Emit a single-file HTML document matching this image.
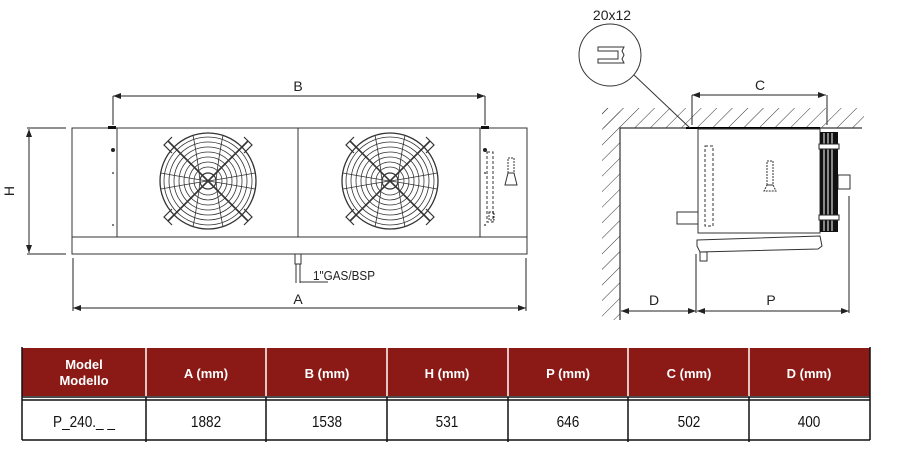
<!DOCTYPE html>
<html><head><meta charset="utf-8"><style>
html,body{margin:0;padding:0;background:#fff;width:899px;height:467px;overflow:hidden}
svg{display:block}
text{font-family:"Liberation Sans",sans-serif}
</style></head><body>
<svg width="899" height="467" viewBox="0 0 899 467" xmlns="http://www.w3.org/2000/svg">
<defs>
<marker id="ar" markerWidth="8" markerHeight="6" refX="8" refY="3" orient="auto-start-reverse" markerUnits="userSpaceOnUse"><path d="M0,0 L8,3 L0,6 z" fill="#222"/></marker>
<g id="fan" fill="none" stroke="#333" stroke-width="0.8">
<circle r="48" stroke-width="1.3"/><circle r="44"/><circle r="39"/><circle r="34"/><circle r="29"/><circle r="24"/><circle r="19"/><circle r="14"/><circle r="8" stroke-width="1.2"/>
<line x1="-40" y1="-40" x2="40" y2="40" stroke-width="1.6"/><line x1="-40" y1="40" x2="40" y2="-40" stroke-width="1.6"/>
<path d="M-15,-46 Q-10,-20 -8,0"/><path d="M15,-46 Q10,-20 8,0"/>
<path d="M-15,46 Q-10,20 -8,0"/><path d="M15,46 Q10,20 8,0"/>
<path d="M-47,-8 Q-20,-3 0,0"/><path d="M47,8 Q20,3 0,0"/>
<path d="M-47,8 Q-20,3 0,0"/><path d="M47,-8 Q20,-3 0,0"/>
<g stroke-width="1.2"><path d="M-36,-44 l-8,8 l8,8"/><path d="M36,-44 l8,8 l-8,8"/><path d="M-36,44 l-8,-8 l8,-8"/><path d="M36,44 l8,-8 l-8,-8"/></g>
</g>
<pattern id="hatch" width="11" height="11" patternUnits="userSpaceOnUse" patternTransform="rotate(45)"><line x1="0" y1="0" x2="0" y2="11" stroke="#333" stroke-width="1"/></pattern>
</defs>

<!-- LEFT FRONT VIEW -->
<g fill="none" stroke="#333" stroke-width="1">
<rect x="72" y="128" width="455" height="109"/>
<rect x="72" y="237" width="455" height="17"/>
<line x1="117" y1="128" x2="117" y2="237"/>
<line x1="298" y1="128" x2="298" y2="237"/>
<line x1="480" y1="128" x2="480" y2="237"/>
<rect x="295" y="254" width="6" height="10"/>
<line x1="296" y1="264" x2="296" y2="283"/><line x1="300" y1="264" x2="300" y2="283"/>
<line x1="300" y1="282" x2="328" y2="282"/>
<rect x="487" y="152" width="6" height="70" stroke-dasharray="3,2"/>
<rect x="508" y="158" width="6" height="15" stroke-dasharray="2,1"/>
<path d="M508,173 L514,173 L517,185 L505,185 Z"/>
<rect x="489" y="212" width="5" height="8" stroke-dasharray="2,1"/>
</g>
<rect x="108" y="126" width="8" height="3" fill="#111"/><rect x="481" y="126" width="8" height="3" fill="#111"/>
<circle cx="113" cy="150" r="2" fill="#222"/><circle cx="113" cy="173" r="1" fill="#555"/><circle cx="113" cy="225" r="1" fill="#555"/>
<circle cx="485" cy="150" r="2" fill="#222"/><circle cx="485" cy="173" r="1" fill="#555"/><circle cx="485" cy="225" r="1" fill="#555"/>
<use href="#fan" x="208" y="181"/>
<use href="#fan" x="390" y="181"/>
<!-- dims -->
<g stroke="#222" stroke-width="1" fill="none">
<line x1="113" y1="96" x2="485" y2="96" marker-start="url(#ar)" marker-end="url(#ar)"/>
<line x1="113" y1="96" x2="113" y2="125"/><line x1="485" y1="96" x2="485" y2="125"/>
<line x1="73" y1="308" x2="526" y2="308" marker-start="url(#ar)" marker-end="url(#ar)"/>
<line x1="73" y1="258" x2="73" y2="311"/><line x1="526" y1="258" x2="526" y2="311"/>
<line x1="29" y1="129" x2="29" y2="253" marker-start="url(#ar)" marker-end="url(#ar)"/>
<line x1="27" y1="128" x2="66" y2="128"/><line x1="27" y1="254" x2="66" y2="254"/>
</g>
<text x="298" y="91" font-size="14" text-anchor="middle" fill="#222">B</text>
<text x="298" y="304" font-size="14" text-anchor="middle" fill="#222">A</text>
<text x="14" y="191" font-size="14" text-anchor="middle" fill="#222" transform="rotate(-90 14 191)">H</text>
<text x="313" y="280" font-size="13" fill="#222" textLength="62" lengthAdjust="spacingAndGlyphs">1"GAS/BSP</text>

<!-- RIGHT SIDE VIEW -->
<rect x="602" y="108" width="262" height="20" fill="url(#hatch)"/>
<rect x="602" y="108" width="18" height="212" fill="url(#hatch)"/>
<rect x="620" y="128" width="244" height="192" fill="#fff"/>
<g fill="none" stroke="#333" stroke-width="1">
<line x1="620" y1="128" x2="862" y2="128" stroke-width="1.2"/>
<line x1="620" y1="128" x2="620" y2="320" stroke-width="1.2"/>
<line x1="686" y1="128" x2="820" y2="128" stroke="#000" stroke-width="2"/>
<rect x="698" y="129" width="122" height="104"/>
<rect x="705" y="146" width="8" height="80" stroke-dasharray="3,2"/>
<rect x="677" y="212" width="21" height="12"/>
<rect x="767" y="161" width="6" height="24" stroke-dasharray="2,1"/>
<path d="M767,185 L773,185 L776,191 L764,191 Z" stroke-dasharray="2,1"/>
<path d="M697,240 L820,236 L822,246 L818,249 L700,252 L697,246 Z"/>
<rect x="700" y="252" width="7" height="9"/>
<rect x="838" y="175" width="12" height="14"/>
<circle cx="610" cy="55" r="31"/>
<line x1="634" y1="75" x2="690" y2="128"/>
<path d="M598,47 L624,47 L622,51 L624,55 L622,59 L624,63 L598,63 L598,59 L618,59 L618,51 L598,51 Z"/>
</g>
<rect x="820" y="132" width="18" height="100" fill="#111"/>
<g stroke="#fff" stroke-width="1"><line x1="824" y1="133" x2="824" y2="231"/><line x1="828" y1="133" x2="828" y2="231"/><line x1="832" y1="133" x2="832" y2="231"/></g>
<rect x="819" y="144" width="20" height="5" fill="#fff" stroke="#222"/>
<rect x="819" y="215" width="20" height="5" fill="#fff" stroke="#222"/>
<g stroke="#222" stroke-width="1" fill="none">
<line x1="692" y1="95" x2="826" y2="95" marker-start="url(#ar)" marker-end="url(#ar)"/>
<line x1="692" y1="95" x2="692" y2="125"/><line x1="827" y1="95" x2="827" y2="125"/>
<line x1="621" y1="311" x2="696" y2="311" marker-start="url(#ar)" marker-end="url(#ar)"/>
<line x1="697" y1="311" x2="849" y2="311" marker-start="url(#ar)" marker-end="url(#ar)"/>
<line x1="696" y1="254" x2="696" y2="313"/><line x1="849" y1="196" x2="849" y2="313"/>
</g>
<text x="760" y="90" font-size="14" text-anchor="middle" fill="#222">C</text>
<text x="654" y="305" font-size="14" text-anchor="middle" fill="#222">D</text>
<text x="771" y="305" font-size="14" text-anchor="middle" fill="#222">P</text>
<text x="612" y="20" font-size="14" text-anchor="middle" fill="#222">20x12</text>

<!-- TABLE -->
<rect x="22" y="348" width="848" height="48" fill="#8b1a16"/>
<g stroke="#fff" stroke-width="1.5"><line x1="146" y1="348" x2="146" y2="396"/><line x1="266" y1="348" x2="266" y2="396"/><line x1="387" y1="348" x2="387" y2="396"/><line x1="508" y1="348" x2="508" y2="396"/><line x1="628" y1="348" x2="628" y2="396"/><line x1="749" y1="348" x2="749" y2="396"/></g>
<g stroke="#111" stroke-width="1.5" fill="none">
<line x1="22" y1="347" x2="22" y2="440"/><line x1="870" y1="347" x2="870" y2="440"/>
<line x1="22" y1="397" x2="870" y2="397"/><line x1="22" y1="400" x2="870" y2="400"/>
<line x1="22" y1="440" x2="870" y2="440"/>
<line x1="146" y1="397" x2="146" y2="442"/><line x1="266" y1="397" x2="266" y2="442"/><line x1="387" y1="397" x2="387" y2="442"/><line x1="508" y1="397" x2="508" y2="442"/><line x1="628" y1="397" x2="628" y2="442"/><line x1="749" y1="397" x2="749" y2="442"/>
</g>
<g fill="#fff" font-size="13" font-weight="bold" text-anchor="middle">
<text x="84" y="369">Model</text><text x="84" y="385">Modello</text>
<text x="206" y="378">A (mm)</text><text x="327" y="378">B (mm)</text><text x="447" y="378">H (mm)</text>
<text x="568" y="378">P (mm)</text><text x="689" y="378">C (mm)</text><text x="809" y="378">D (mm)</text>
</g>
<g fill="#111" font-size="16" text-anchor="middle" transform="scale(0.85 1)">
<text x="98.8" y="427">P_240._ _</text>
<text x="242.4" y="427">1882</text><text x="384.7" y="427">1538</text><text x="525.9" y="427">531</text>
<text x="668.2" y="427">646</text><text x="810.6" y="427">502</text><text x="951.8" y="427">400</text>
</g>
</svg>
</body></html>
